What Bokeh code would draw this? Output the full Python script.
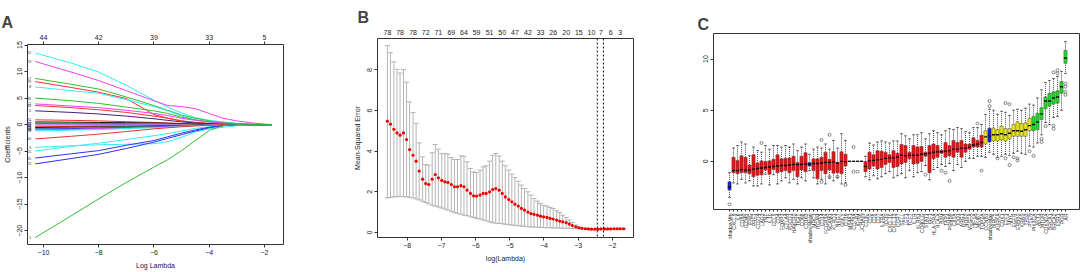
import math
from bokeh.plotting import figure
from bokeh.models import (Range1d, LinearAxis, FixedTicker, Whisker, TeeHead, Span,
                          ColumnDataSource, Title)
from bokeh.layouts import row, column
from bokeh.embed import file_html
from bokeh.resources import INLINE
from bokeh.core.properties import value

FONT = "Liberation Sans"

# ---------------- Panel A : LASSO coefficient paths ----------------
A_loglambda = [-10.3, -9.0, -8.0, -7.0, -6.0, -5.5, -5.0, -4.5, -4.0, -3.5, -3.0, -2.5, -2.0, -1.75]
A_paths = [
    [13.5, 11.6, 9.9, 7.4, 4.6, 3.3, 2.2, 1.3, 0.8, 0.5, 0.25, 0.1, 0.02, 0.0],
    [11.9, 9.9, 8.3, 6.4, 4.5, 3.6, 3.4, 3.0, 2.1, 1.2, 0.7, 0.35, 0.1, 0.0],
    [8.7, 7.6, 6.7, 5.2, 3.6, 2.7, 1.8, 1.2, 0.7, 0.4, 0.2, 0.08, 0.0, 0.0],
    [8.1, 7.0, 6.1, 4.9, 1.9, 1.2, 0.7, 0.4, 0.2, 0.1, 0.05, 0.0, 0.0, 0.0],
    [7.1, 6.4, 5.9, 4.7, 3.4, 2.6, 1.6, 0.9, 0.5, 0.3, 0.1, 0.0, 0.0, 0.0],
    [5.0, 4.5, 4.0, 3.3, 2.6, 2.1, 1.4, 0.9, 0.5, 0.3, 0.1, 0.0, 0.0, 0.0],
    [3.9, 3.5, 3.2, 2.7, 2.1, 1.7, 1.2, 0.8, 0.5, 0.3, 0.15, 0.05, 0.0, 0.0],
    [3.6, 3.2, 2.8, 2.3, 1.6, 1.2, 0.7, 0.4, 0.2, 0.1, 0.0, 0.0, 0.0, 0.0],
    [2.6, 2.3, 2.0, 1.6, 1.1, 0.8, 0.5, 0.3, 0.15, 0.05, 0.0, 0.0, 0.0, 0.0],
    [0.9, 0.8, 0.7, 0.55, 0.4, 0.3, 0.2, 0.1, 0.05, 0.0, 0.0, 0.0, 0.0, 0.0],
    [0.5, 0.45, 0.4, 0.35, 0.3, 0.25, 0.15, 0.1, 0.05, 0.0, 0.0, 0.0, 0.0, 0.0],
    [0.3, 0.28, 0.25, 0.2, 0.15, 0.1, 0.08, 0.05, 0.0, 0.0, 0.0, 0.0, 0.0, 0.0],
    [0.15, 0.12, 0.1, 0.08, 0.05, 0.03, 0.0, 0.0, 0.0, 0.0, 0.0, 0.0, 0.0, 0.0],
    [-0.1, -0.1, -0.08, -0.05, -0.03, 0.0, 0.0, 0.0, 0.0, 0.0, 0.0, 0.0, 0.0, 0.0],
    [-0.25, -0.22, -0.2, -0.15, -0.1, -0.08, -0.05, 0.0, 0.0, 0.0, 0.0, 0.0, 0.0, 0.0],
    [-0.4, -0.35, -0.3, -0.25, -0.2, -0.15, -0.1, -0.05, 0.0, 0.0, 0.0, 0.0, 0.0, 0.0],
    [-0.55, -0.5, -0.45, -0.4, -0.3, -0.25, -0.2, -0.1, -0.05, 0.0, 0.0, 0.0, 0.0, 0.0],
    [-0.7, -0.62, -0.55, -0.45, -0.35, -0.3, -0.2, -0.12, -0.05, 0.0, 0.0, 0.0, 0.0, 0.0],
    [-0.85, -0.75, -0.68, -0.55, -0.42, -0.35, -0.25, -0.15, -0.08, 0.0, 0.0, 0.0, 0.0, 0.0],
    [-1.0, -0.9, -0.8, -0.65, -0.5, -0.4, -0.3, -0.2, -0.1, 0.0, 0.0, 0.0, 0.0, 0.0],
    [-1.2, -1.05, -0.95, -0.75, -0.6, -0.5, -0.35, -0.2, -0.1, 0.0, 0.0, 0.0, 0.0, 0.0],
    [-2.7, -2.2, -1.8, -1.3, -0.8, -0.6, -0.4, -0.25, -0.1, 0.0, 0.0, 0.0, 0.0, 0.0],
    [-4.3, -4.0, -3.8, -3.7, -3.6, -3.2, -2.4, -1.4, -0.8, -0.5, -0.2, 0.0, 0.0, 0.0],
    [-5.0, -4.1, -3.5, -2.8, -2.1, -1.7, -1.2, -0.7, -0.4, -0.2, 0.0, 0.0, 0.0, 0.0],
    [-6.3, -5.5, -4.9, -3.9, -3.0, -2.3, -1.6, -1.0, -0.5, -0.2, 0.0, 0.0, 0.0, 0.0],
    [-7.4, -6.4, -5.6, -4.5, -3.3, -2.6, -1.9, -1.2, -0.6, -0.2, 0.0, 0.0, 0.0, 0.0],
    [-21.3, -17.2, -14.0, -10.9, -8.0, -6.6, -4.9, -3.0, -1.1, -0.2, 0.0, 0.0, 0.0, 0.0],
]
A_colors = ["#30F0F0", "#F040F0", "#30C030", "#F03030", "#30F0F0", "#30C030", "#F040F0",
            "#F03030", "#402080", "#F03030", "#000000", "#30C030", "#3030F0", "#F040F0",
            "#30F0F0", "#F03030", "#000000", "#30C030", "#3030F0", "#F040F0", "#30F0F0",
            "#F03030", "#30F0F0", "#30F0F0", "#3030F0", "#3030F0", "#30C030"]
A_varnames = ["41", "23", "17", "29", "8", "36", "12", "44", "5", "31", "2", "19", "27", "11",
              "38", "6", "21", "14", "33", "9", "26", "40", "3", "15", "35", "22", "1"]
A_top_at = [-10, -8, -6, -4, -2]
A_top_df = ["44", "42", "39", "33", "5"]

# ---------------- Panel B : cross-validation curve ----------------
B_loglambda = [-8.58, -8.49, -8.39, -8.30, -8.21, -8.11, -8.02, -7.93, -7.83, -7.74,
               -7.65, -7.55, -7.46, -7.37, -7.27, -7.18, -7.09, -6.99, -6.90, -6.81,
               -6.71, -6.62, -6.53, -6.43, -6.34, -6.25, -6.15, -6.06, -5.97, -5.87,
               -5.78, -5.69, -5.59, -5.50, -5.41, -5.31, -5.22, -5.13, -5.03, -4.94,
               -4.85, -4.75, -4.66, -4.57, -4.47, -4.38, -4.29, -4.19, -4.10, -4.01,
               -3.91, -3.82, -3.73, -3.63, -3.54, -3.45, -3.35, -3.26, -3.17, -3.07,
               -2.98, -2.89, -2.79, -2.70, -2.61, -2.51, -2.42, -2.33, -2.23, -2.14,
               -2.05, -1.95, -1.86, -1.77, -1.67]
B_mse = [5.48, 5.33, 5.08, 4.90, 4.79, 4.90, 4.57, 4.08, 3.80, 3.51,
         3.02, 2.62, 2.41, 2.36, 2.62, 2.85, 2.69, 2.56, 2.49, 2.46,
         2.36, 2.25, 2.25, 2.30, 2.25, 2.08, 1.92, 1.80, 1.79, 1.84,
         1.92, 1.92, 2.00, 2.11, 2.16, 2.08, 1.92, 1.75, 1.62, 1.51,
         1.39, 1.30, 1.18, 1.10, 1.00, 0.93, 0.89, 0.85, 0.80, 0.77,
         0.74, 0.69, 0.66, 0.61, 0.56, 0.52, 0.48, 0.41, 0.34, 0.28,
         0.23, 0.20, 0.18, 0.17, 0.16, 0.16, 0.16, 0.17, 0.17, 0.17,
         0.17, 0.18, 0.18, 0.18, 0.18]
B_upper = [9.20, 8.85, 8.40, 8.03, 7.85, 8.02, 7.40, 6.43, 5.90, 5.36,
           4.41, 3.72, 3.34, 3.31, 3.92, 4.33, 4.10, 3.89, 3.89, 3.85,
           3.69, 3.59, 3.59, 3.77, 3.75, 3.48, 3.15, 2.98, 2.95, 3.07,
           3.23, 3.28, 3.51, 3.80, 3.89, 3.77, 3.51, 3.28, 3.07, 2.87,
           2.70, 2.52, 2.33, 2.16, 2.00, 1.84, 1.67, 1.54, 1.43, 1.34,
           1.30, 1.23, 1.18, 1.07, 0.98, 0.85, 0.74, 0.61, 0.49, 0.36,
           0.28, 0.23, 0.20, 0.19, 0.18, 0.18, 0.18, 0.19, 0.19, 0.19,
           0.19, 0.20, 0.20, 0.20, 0.20]
B_lower = [1.70, 1.72, 1.75, 1.76, 1.77, 1.76, 1.75, 1.73, 1.70, 1.65,
           1.60, 1.53, 1.47, 1.40, 1.34, 1.30, 1.25, 1.20, 1.15, 1.10,
           1.04, 0.98, 0.94, 0.90, 0.85, 0.82, 0.77, 0.74, 0.69, 0.66,
           0.61, 0.57, 0.52, 0.48, 0.46, 0.44, 0.43, 0.40, 0.38, 0.36,
           0.35, 0.33, 0.32, 0.30, 0.28, 0.27, 0.26, 0.26, 0.25, 0.24,
           0.23, 0.23, 0.22, 0.22, 0.21, 0.21, 0.20, 0.20, 0.19, 0.19,
           0.18, 0.17, 0.16, 0.15, 0.14, 0.14, 0.14, 0.15, 0.15, 0.15,
           0.15, 0.16, 0.16, 0.16, 0.16]
B_top_idx = [0, 4, 8, 12, 16, 20, 24, 28, 32, 36, 40, 44, 48, 52, 56, 60, 64, 67, 70, 73]
B_top_df = ["78", "78", "78", "72", "71", "69", "64", "59", "51", "50", "47", "42",
            "33", "26", "20", "15", "10", "7", "6", "3"]
B_lambda_min = -2.44
B_lambda_1se = -2.26

# ---------------- Panel C : feature importance boxplots ----------------
C_labels = ["shadowMin", "CXCL9", "IL6", "CD8A", "GZMB", "IFNG", "PRF1", "CD274", "LAG3", "TNF",
            "IL10", "CCL5", "CD4", "FOXP3", "CTLA4", "PDCD1", "HAVCR2", "TIGIT", "CD68", "CD163",
            "shadowMean", "MRC1", "ITGAM", "CD14", "FCGR3A", "NCAM1", "KLRD1", "NKG7", "GNLY", "CD19",
            "MS4A1", "CD79A", "IGHM", "JCHAIN", "CD3E", "CD2", "CD5", "CD7", "IL2RA", "ICOS",
            "CXCL10", "CXCL13", "CCR7", "SELL", "LEF1", "TCF7", "IL7R", "KLRB1", "CD40LG", "STAT1",
            "IRF1", "HLA-DRA", "HLA-A", "B2M", "TAP1", "PSMB9", "CIITA", "IDO1", "ARG1", "NOS2",
            "VEGFA", "HIF1A", "MKI67", "TOP2A", "CCNB1", "shadowMax", "BIRC5", "AURKA", "CDK1", "E2F1",
            "MYC", "EGFR", "ERBB2", "KRAS", "TP53", "PTEN", "PIK3CA", "AKT1", "MTOR", "CDKN2A",
            "BRCA1", "BRCA2", "ESR1", "PGR", "AR"]
C_median = [-2.5, -0.9, -0.9, -0.8, -0.85, -0.85, -0.75, -0.7, -0.65, -0.6,
            -0.55, -0.5, -0.45, -0.4, -0.4, -0.35, -0.3, -0.3, -0.3, -0.25,
            -0.25, -0.2, -0.2, -0.15, -0.1, -0.1, -0.05, -0.15, 0.0, -0.05,
            0.0, 0.0, 0.0, 0.0, -0.5, 0.05, 0.1, 0.15, 0.2, 0.3,
            0.35, 0.35, 0.4, 0.6, 0.55, 0.6, 0.6, 0.6, 0.7, 0.75,
            0.8, 0.9, 0.95, 0.95, 1.0, 1.05, 1.2, 1.2, 1.3, 1.3,
            1.4, 1.6, 1.7, 1.85, 2.4, 2.5, 2.6, 2.6, 2.7, 2.6,
            2.75, 3.0, 3.0, 2.95, 3.1, 3.5, 3.6, 3.85, 4.65, 5.9,
            5.9, 6.2, 6.3, 7.3, 10.1]
C_q1 = [-2.8, -1.1, -1.2, -1.1, -1.1, -1.2, -1.5, -1.35, -1.3, -0.85,
        -1.25, -0.8, -1.1, -1.0, -0.9, -1.1, -0.9, -1.5, -0.85, -1.0,
        -0.45, -0.9, -1.7, -0.9, -1.2, -0.85, -1.15, -1.1, -1.2, -0.45,
        0.0, 0.0, 0.0, 0.0, -1.0, -0.75, -0.45, -0.75, -0.6, -0.3,
        -0.1, -0.6, -0.5, -0.25, -0.1, 0.25, -0.25, -0.2, 0.0, 0.5,
        -1.1, 0.25, 0.4, 0.8, 0.4, 0.55, 0.4, 0.9, 0.4, 0.9,
        1.2, 1.4, 1.4, 1.4, 1.7, 1.9, 2.0, 2.0, 2.1, 2.0,
        2.2, 2.45, 2.45, 2.45, 2.45, 3.0, 3.0, 3.1, 4.1, 5.15,
        5.4, 5.6, 5.7, 6.65, 9.6]
C_q3 = [-2.0, 0.4, 0.1, 0.55, 0.4, -0.35, 0.65, -0.15, 0.05, 0.0,
        0.05, 0.2, 0.65, 0.25, 0.3, 0.33, 0.5, -0.1, 0.5, 0.85,
        -0.1, 0.25, 0.25, 0.4, 0.9, 0.2, 0.95, -0.1, 0.95, 0.7,
        0.0, 0.0, 0.0, 0.0, 0.0, 0.9, 0.65, 1.05, 1.0, 0.9,
        0.65, 1.05, 0.8, 1.65, 1.55, 0.9, 1.55, 1.4, 1.45, 0.9,
        1.55, 1.7, 1.55, 1.1, 1.85, 1.55, 2.05, 1.85, 2.05, 1.7,
        1.7, 2.3, 2.05, 2.55, 3.0, 3.25, 3.25, 3.1, 3.45, 3.2,
        3.2, 3.6, 3.85, 3.7, 3.75, 4.2, 4.4, 4.7, 5.25, 6.3,
        6.65, 6.8, 6.9, 7.8, 10.85]
C_low = [-3.5, -2.1, -2.2, -1.75, -2.1, -1.9, -2.4, -2.4, -2.2, -1.25,
         -2.3, -1.3, -2.2, -1.9, -1.6, -2.1, -1.75, -2.2, -1.6, -1.9,
         -0.9, -1.6, -2.2, -1.75, -2.2, -1.65, -1.9, -1.6, -2.2, -2.1,
         0.0, 0.0, 0.0, 0.0, -1.5, -1.8, -1.4, -1.7, -1.5, -1.2,
         -1.0, -1.6, -1.4, -1.2, -1.6, -0.9, -1.5, -1.1, -1.0, -0.4,
         -1.8, -0.8, -0.6, -0.3, -0.5, -0.2, -0.9, -0.3, -0.6, 0.0,
         0.3, 0.3, 0.5, 0.5, 0.4, 0.9, 0.7, 0.4, 0.5, 0.7,
         0.6, 0.8, 1.0, 0.8, 0.7, 1.5, 1.4, 1.8, 2.6, 3.8,
         3.6, 4.3, 4.4, 5.0, 8.6]
C_high = [-1.1, 1.3, 1.55, 1.9, 1.7, 0.55, 1.4, 1.05, 0.9, 1.55,
          1.2, 1.55, 1.55, 1.4, 1.55, 1.4, 1.7, 1.05, 1.4, 1.7,
          0.7, 1.2, 1.4, 1.3, 1.7, 1.2, 2.05, 1.3, 2.7, 2.05,
          0.0, 0.0, 0.0, 0.0, 0.5, 1.8, 1.6, 1.9, 2.0, 1.9,
          1.8, 2.0, 2.0, 2.7, 2.5, 2.2, 2.6, 2.6, 2.8, 2.2,
          2.7, 3.0, 2.8, 2.6, 3.0, 3.2, 3.1, 3.3, 3.2, 2.9,
          2.8, 3.3, 3.3, 3.6, 4.6, 5.1, 5.0, 4.6, 4.9, 4.8,
          4.5, 5.0, 5.1, 5.0, 5.2, 5.6, 5.5, 6.2, 7.0, 7.7,
          7.9, 8.1, 8.3, 8.8, 11.7]
C_decision = (["Shadow"] + ["Rejected"] * 19 + ["Shadow"] + ["Rejected"] * 43 + ["Tentative"]
              + ["Shadow"] + ["Tentative"] * 10 + ["Confirmed"] * 9)
C_out_idx = [0, 8, 23, 25, 23, 25, 27, 29, 31, 31, 32, 49, 53, 54, 55, 62, 63,
             65, 65, 69, 70, 67, 69, 70, 71, 72, 72, 75, 76, 78, 78, 79, 81, 81,
             81, 82, 82, 84, 84, 84, 84]
C_out_val = [-4.2, 1.8, 2.1, 2.6, -2.0, -1.5, -1.5, -2.3, 1.4, -1.0, -1.0, -1.3, -0.9, -1.1, -1.9, 3.7, -0.9,
             5.9, 5.4, 5.7, 5.6, 0.3, 0.3, -0.35, 0.4, 0.1, 0.3, 1.0, 0.55, 2.2, 1.9, 3.45, 3.2, 3.5,
             8.7, 8.6, 8.9, 7.6, 7.3, 6.8, 6.5]

DECISION_COLORS = {"Shadow": "#1515EE", "Rejected": "#EE1111", "Tentative": "#F2EC1A", "Confirmed": "#22DD22"}


def style(p, fs="7px"):
    p.toolbar_location = None
    p.grid.visible = False
    p.outline_line_color = "#333333"
    p.outline_line_width = 1
    p.background_fill_color = "white"
    p.border_fill_color = "white"
    for ax in p.xaxis + p.yaxis:
        ax.axis_line_color = None
        ax.major_tick_line_color = "#333333"
        ax.major_tick_out = 3
        ax.major_tick_in = 0
        ax.minor_tick_line_color = None
        ax.major_label_text_font = FONT
        ax.major_label_text_font_size = fs
        ax.major_label_text_color = "#222222"
        ax.major_label_standoff = 2
        ax.axis_label_text_font = FONT
        ax.axis_label_text_font_size = "7px"
        ax.axis_label_text_font_style = "normal"
        ax.axis_label_standoff = 4
        ax.axis_label_text_color = "#222222"


def panel_title(letter, offset):
    return Title(text=letter, text_font=FONT, text_font_size="16px", text_font_style="bold",
                 align="left", offset=offset, standoff=2)


# ---------- A ----------
pA = figure(width=350, height=272, output_backend="svg", toolbar_location=None,
            x_range=Range1d(-10.58, -1.31), y_range=Range1d(-22.6, 15.1),
            min_border_left=27, min_border_right=67, min_border_top=44, min_border_bottom=28,
            x_axis_label="Log Lambda", y_axis_label="Coefficients")
pA.multi_line(xs=[A_loglambda] * len(A_paths), ys=A_paths, line_color=A_colors, line_width=1)
pA.text(x=[A_loglambda[0]] * len(A_paths), y=[path[0] for path in A_paths], text=A_varnames,
        x_offset=-4, text_align="right", text_baseline="middle", text_font=value(FONT),
        text_font_size="4px", text_color="#333333")
pA.xaxis.ticker = FixedTicker(ticks=[-10, -8, -6, -4, -2])
pA.yaxis.ticker = FixedTicker(ticks=[-20, -15, -10, -5, 0, 5, 10, 15])
pA.yaxis.major_label_orientation = "vertical"
topA = LinearAxis(ticker=FixedTicker(ticks=A_top_at),
                  major_label_overrides=dict(zip(A_top_at, A_top_df)))
pA.add_layout(topA, "above")
style(pA)
pA.add_layout(panel_title("A", -26), "above")

# ---------- B ----------
pB = figure(width=340, height=272, output_backend="svg", toolbar_location=None,
            x_range=Range1d(-8.87, -1.38), y_range=Range1d(-0.25, 9.55),
            min_border_left=26, min_border_right=57, min_border_top=38, min_border_bottom=35,
            x_axis_label="log(Lambda)", y_axis_label="Mean-Squared Error")
srcB = ColumnDataSource(dict(x=B_loglambda, mse=B_mse, up=B_upper, lo=B_lower))
pB.add_layout(Whisker(source=srcB, base="x", upper="up", lower="lo", line_color="#B4B4B4",
                      line_width=1,
                      upper_head=TeeHead(size=5, line_color="#B4B4B4", line_width=1),
                      lower_head=TeeHead(size=5, line_color="#B4B4B4", line_width=1)))
pB.scatter(x="x", y="mse", source=srcB, size=3.2, fill_color="#EE0000", line_color=None)
for loc in (B_lambda_min, B_lambda_1se):
    pB.add_layout(Span(location=loc, dimension="height", line_color="#111111",
                       line_dash="2 2", line_width=1))
pB.xaxis.ticker = FixedTicker(ticks=[-8, -7, -6, -5, -4, -3, -2])
pB.yaxis.ticker = FixedTicker(ticks=[0, 2, 4, 6, 8])
pB.yaxis.major_label_orientation = "vertical"
B_top_at = [B_loglambda[i] for i in B_top_idx]
topB = LinearAxis(ticker=FixedTicker(ticks=B_top_at),
                  major_label_overrides=dict(zip(B_top_at, B_top_df)))
pB.add_layout(topB, "above")
style(pB)
topB.major_tick_out = 0
topB.major_label_standoff = 4
pB.add_layout(panel_title("B", -20), "above")

# ---------- C ----------
C_x = list(range(len(C_labels)))
pC = figure(width=394, height=272, output_backend="svg", toolbar_location=None,
            x_range=Range1d(-4, 87.5), y_range=Range1d(-4.7, 12.5),
            min_border_left=23, min_border_right=5, min_border_top=33, min_border_bottom=63)
srcC = ColumnDataSource(dict(x=C_x, med=C_median, q1=C_q1, q3=C_q3, lo=C_low, hi=C_high,
                             color=[DECISION_COLORS[d] for d in C_decision]))
pC.segment(x0="x", y0="q3", x1="x", y1="hi", source=srcC, line_color="#222222",
           line_dash="1 1", line_width=0.8)
pC.segment(x0="x", y0="q1", x1="x", y1="lo", source=srcC, line_color="#222222",
           line_dash="1 1", line_width=0.8)
pC.scatter(x="x", y="hi", source=srcC, marker="dash", size=2.5, line_color="#222222", line_width=0.8)
pC.scatter(x="x", y="lo", source=srcC, marker="dash", size=2.5, line_color="#222222", line_width=0.8)
pC.vbar(x="x", width=0.8, top="q3", bottom="q1", source=srcC, fill_color="color",
        line_color="#444444", line_width=0.5)
pC.scatter(x="x", y="med", source=srcC, marker="dash", size=3.2, line_color="#111111", line_width=1.4)
pC.scatter(x=C_out_idx, y=C_out_val, marker="circle", size=3, fill_color=None,
           line_color="#666666", line_width=0.8)
pC.xaxis.ticker = FixedTicker(ticks=C_x)
pC.xaxis.major_label_overrides = dict(zip(C_x, C_labels))
pC.yaxis.ticker = FixedTicker(ticks=[0, 5, 10])
pC.yaxis.major_label_orientation = "vertical"
style(pC)
pC.xaxis.major_label_text_font_size = "5px"
pC.xaxis.major_label_orientation = math.pi / 2
pC.xaxis.major_tick_out = 2
pC.add_layout(panel_title("C", -16), "above")

layout = row(column(pA), column(pB), column(pC))
open("out.html", "w").write(file_html(layout, INLINE))
